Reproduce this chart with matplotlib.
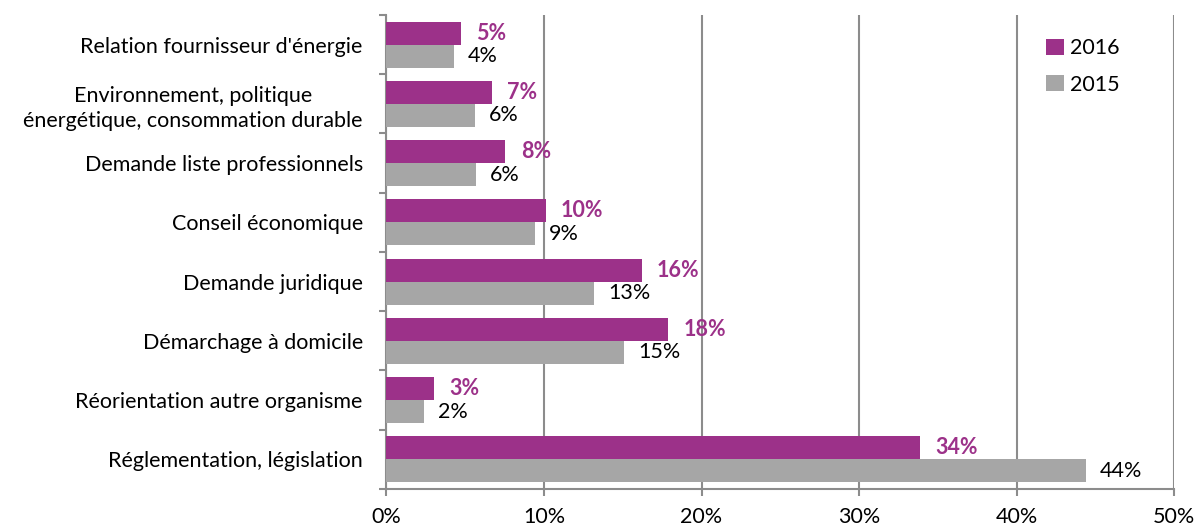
import numpy as np
import matplotlib
matplotlib.use('Agg')
import matplotlib.pyplot as plt
from matplotlib.ticker import FuncFormatter

plt.rcParams['font.family'] = ['Lato', 'DejaVu Sans']

# Données
categories = ["Relation fournisseur d'énergie",
              "Environnement, politique\nénergétique, consommation durable",
              "Demande liste professionnels",
              "Conseil économique",
              "Demande juridique",
              "Démarchage à domicile",
              "Réorientation autre organisme",
              "Réglementation, législation"]
val_2016 = [4.7, 6.7, 7.55, 10.1, 16.2, 17.9, 3.0, 33.9]
val_2015 = [4.3, 5.6, 5.7, 9.4, 13.2, 15.1, 2.4, 44.4]
lab_2016 = ['5%', '7%', '8%', '10%', '16%', '18%', '3%', '34%']
lab_2015 = ['4%', '6%', '6%', '9%', '13%', '15%', '2%', '44%']

violet = '#9C3189'
gris = '#A6A6A6'
ligne = '#8C8C8C'
fs = 15.5

fig = plt.figure(figsize=(11.98, 5.30), dpi=100)
ax = fig.add_axes([0.3226, 0.0774, 0.98 - 0.3226, 0.9717 - 0.0774])

y = np.arange(len(categories))
h = 0.39
b16 = ax.barh(y - h / 2, val_2016, height=h, color=violet, label='2016', zorder=3)
b15 = ax.barh(y + h / 2, val_2015, height=h, color=gris, label='2015', zorder=3)

for rect, txt in zip(b16, lab_2016):
    ax.annotate(txt, (rect.get_width(), rect.get_y() + rect.get_height() / 2),
                xytext=(11, 0), textcoords='offset points', va='center', ha='left',
                color=violet, fontweight='bold', fontsize=fs)
for rect, txt in zip(b15, lab_2015):
    ax.annotate(txt, (rect.get_width(), rect.get_y() + rect.get_height() / 2),
                xytext=(10, 0), textcoords='offset points', va='center', ha='left',
                color='black', fontsize=fs)

ax.set_xlim(0, 50)
ax.set_ylim(len(categories) - 0.5, -0.5)
ax.set_xticks(np.arange(0, 51, 10))
ax.xaxis.set_major_formatter(FuncFormatter(lambda v, p: '%d%%' % v))

# étiquettes des catégories au centre, graduations aux limites
ax.set_yticks(np.arange(-0.5, len(categories), 1))
ax.set_yticklabels([])
ax.set_yticks(y, minor=True)
ax.set_yticklabels(categories, minor=True, fontsize=fs, multialignment='center',
                   linespacing=1.35)
ax.tick_params(axis='y', which='minor', length=0, pad=17)
ax.tick_params(axis='y', which='major', length=5, width=1.5, color=ligne, direction='out')
ax.tick_params(axis='x', length=5, width=1.5, color=ligne, labelsize=fs, pad=8)

ax.grid(axis='x', color=ligne, linewidth=1.5, zorder=0)
ax.set_axisbelow(True)
for s in ['top', 'right']:
    ax.spines[s].set_visible(False)
for s in ['left', 'bottom']:
    ax.spines[s].set_color(ligne)
    ax.spines[s].set_linewidth(1.5)

fig.legend(loc='upper left', bbox_to_anchor=(1027 / 1198, 1 - 19 / 530), frameon=False,
           fontsize=fs, handlelength=0.8, handleheight=0.8, handletextpad=0.3,
           labelspacing=0.75)

fig.savefig('out.png', dpi=100)
